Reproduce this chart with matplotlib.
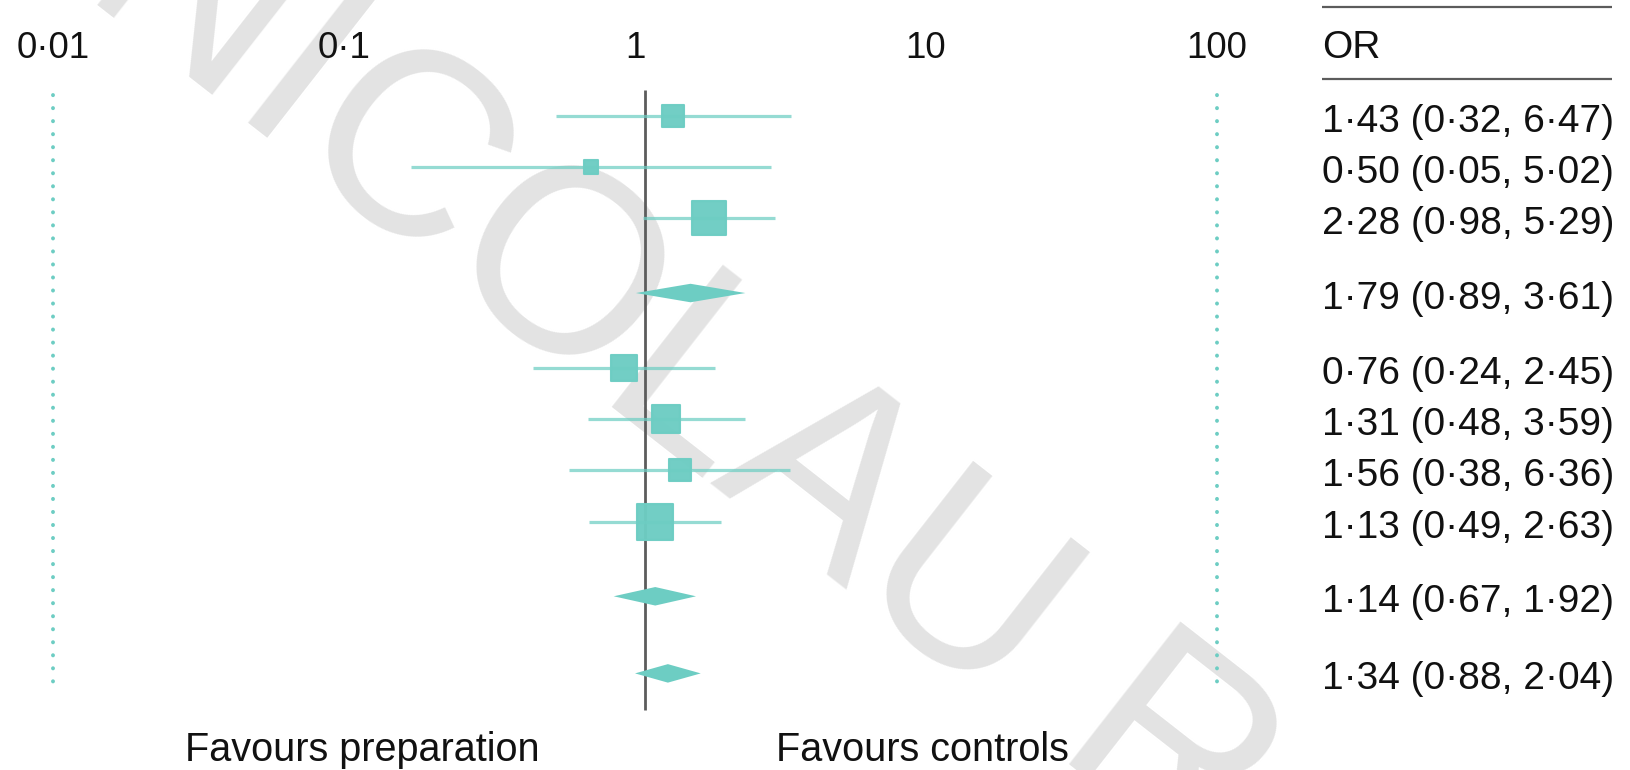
import numpy as np
import matplotlib
matplotlib.use("Agg")
import matplotlib.pyplot as plt
import matplotlib.transforms as mtransforms
from matplotlib.markers import MarkerStyle

# ---------------- data ----------------
study_or = [1.43, 0.50, 2.28, 0.76, 1.31, 1.56, 1.13]
study_lo = [0.32, 0.05, 0.98, 0.24, 0.48, 0.38, 0.49]
study_hi = [6.47, 5.02, 5.29, 2.45, 3.59, 6.36, 2.63]
study_weight = [9.1, 4.4, 22.4, 13.6, 15.6, 10.0, 25.0]   # % (estimated from square sizes)
pooled_or = [1.79, 1.14, 1.34]
pooled_lo = [0.89, 0.67, 0.88]
pooled_hi = [3.61, 1.92, 2.04]
tick_values = [0.01, 0.1, 1, 10, 100]
tick_labels = ["0·01", "0·1", "1", "10", "100"]
header_text = "OR"
left_label = "Favours preparation"
right_label = "Favours controls"
watermark = "NICOLAU R"

# order of rows: ('s', study index) or ('p', pooled index)
row_order = [("s", 0), ("s", 1), ("s", 2), ("p", 0),
             ("s", 3), ("s", 4), ("s", 5), ("s", 6), ("p", 1), ("p", 2)]

# ---------------- layout ----------------
W, H, DPI = 1630, 770, 100
X1_PX, PX_PER_DEC = 645.0, 180.0          # data scale
ROW0_PX, ROW_PX = 115.7, 51.4              # row scale
LBL_LEFT_PX, LBL_RIGHT_PX = 53.0, 1217.0   # label-axis (0.01 .. 100)
TEAL = "#6dcdc3"
GREY = "#5c5c5c"
FONT = "Liberation Sans"
plt.rcParams["font.family"] = [FONT, "DejaVu Sans"]

def row_of_px(px):
    return (px - ROW0_PX) / ROW_PX

# row positions with wider gaps around pooled rows
ys = []
y = 0.0
prev = None
for kind, _ in row_order:
    if prev is not None:
        if kind == "p" and prev == "p":
            y += 1.5
        elif kind == "p" or prev == "p":
            y += 1.45
        else:
            y += 1.0
    ys.append(y)
    prev = kind

fig = plt.figure(figsize=(W / DPI, H / DPI), dpi=DPI)
fig.patch.set_facecolor("white")

# watermark (behind everything)
fig.text(80 / W, 1 + 8 / H, watermark, rotation=-38, rotation_mode="anchor",
         ha="left", va="baseline", fontsize=188, color="#e3e3e3",
         family=FONT, zorder=-5)

ax = fig.add_axes([0, 0, 1, 1])
ax.patch.set_visible(False)
ax.set_xscale("log")
ax.set_xlim(10 ** (-X1_PX / PX_PER_DEC), 10 ** ((W - X1_PX) / PX_PER_DEC))
ax.set_ylim(row_of_px(H), row_of_px(0))
ax.axis("off")

ax2 = ax.twiny()
ax2.patch.set_visible(False)
ax2.set_xscale("log")
dec = (LBL_RIGHT_PX - LBL_LEFT_PX) / 4.0
ax2.set_xlim(10 ** (-2 - LBL_LEFT_PX / dec), 10 ** (2 + (W - LBL_RIGHT_PX) / dec))
ax2.axis("off")

# null line at 1
ax.plot([1, 1], [row_of_px(90), row_of_px(710)], color=GREY, lw=2.0,
        solid_capstyle="butt", zorder=2)

# dotted lines at the label axis extremes
for v in (tick_values[0], tick_values[-1]):
    ax2.plot([v, v], [row_of_px(95), row_of_px(684)], color=TEAL, lw=2.8,
             linestyle=(0, (0.05, 3.3)), dash_capstyle="round", zorder=1)

# tick labels
for v, lab in zip(tick_values, tick_labels):
    ax2.text(v, row_of_px(58), lab, ha="center", va="baseline",
             fontsize=26.5, color="#111111")

sq = MarkerStyle("s", joinstyle="round")
blend = mtransforms.blended_transform_factory(fig.transFigure, ax.transData)
text_dy = 16.0 / ROW_PX

for (kind, i), yy in zip(row_order, ys):
    if kind == "s":
        o, lo, hi, w = study_or[i], study_lo[i], study_hi[i], study_weight[i]
        ax.plot([lo, hi], [yy, yy], color=TEAL, alpha=0.72, lw=2.3,
                solid_capstyle="butt", zorder=3)
        side_px = 7.6 * np.sqrt(w)
        ax.plot([o], [yy], marker=sq, markersize=side_px * 0.72 - 0.8,
                color=TEAL, markeredgecolor=TEAL, markeredgewidth=1.5,
                alpha=0.97, zorder=4)
    else:
        o, lo, hi = pooled_or[i], pooled_lo[i], pooled_hi[i]
        hh = 0.18
        ax.fill([lo, o, hi, o], [yy, yy - hh, yy, yy + hh], color=TEAL,
                lw=0, zorder=4)
    ax.text(1322 / W, yy + text_dy,
            f"{o:.2f} ({lo:.2f}, {hi:.2f})".replace(".", "·"),
            transform=blend, ha="left", va="baseline", fontsize=28,
            color="#111111")

# table header
ax.text(1322 / W, row_of_px(58), header_text, transform=blend, ha="left",
        va="baseline", fontsize=28, color="#111111")
for ypx in (7, 79):
    ax.plot([1322 / W, 1612 / W], [row_of_px(ypx)] * 2, transform=blend,
            color=GREY, lw=1.6, solid_capstyle="butt", clip_on=False)

# bottom labels
fig.text(362 / W, 1 - 761 / H, left_label, ha="center", va="baseline",
         fontsize=28.5, color="#111111")
fig.text(922 / W, 1 - 761 / H, right_label, ha="center", va="baseline",
         fontsize=28.5, color="#111111")

fig.savefig("out.png", dpi=DPI, facecolor="white")
